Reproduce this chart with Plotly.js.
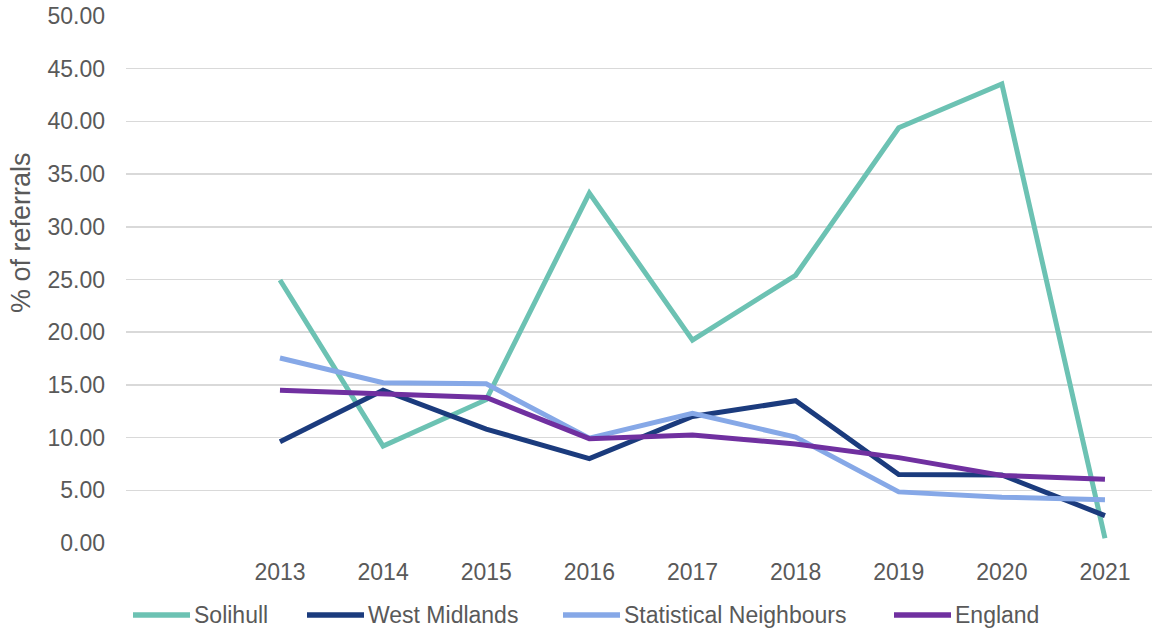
<!DOCTYPE html>
<html>
<head>
<meta charset="utf-8">
<script src="https://cdn.plot.ly/plotly-3.0.1.min.js"></script>
<style>html,body{margin:0;padding:0;background:#fff;}#chart{width:1152px;height:633px;}</style>
</head>
<body>
<div id="chart"></div>
<script>
const years = [2013, 2014, 2015, 2016, 2017, 2018, 2019, 2020, 2021];
const yTickVals = [0, 5, 10, 15, 20, 25, 30, 35, 40, 45, 50];
const seriesNames = ["Solihull", "West Midlands", "Statistical Neighbours", "England"];
const solihull = [24.95, 9.2, 13.6, 33.2, 19.25, 25.4, 39.4, 43.55, 0.45];
const westMidlands = [9.6, 14.5, 10.8, 8.0, 12.0, 13.5, 6.5, 6.45, 2.6];
const statNeighbours = [17.55, 15.2, 15.1, 9.95, 12.3, 10.05, 4.85, 4.35, 4.1];
const england = [14.5, 14.1, 13.8, 9.9, 10.25, 9.4, 8.1, 6.4, 6.05];
const yTitle = "% of referrals";

const colors = ["#6CC2B3", "#1B3B7D", "#86A8E7", "#7030A0"];
const values = [solihull, westMidlands, statNeighbours, england];

const W = 1152, H = 633, L = 126, R = 0, T = 16, B = 90;
const px = x => (x - L) / (W - L - R);
const py = y => (H - B - y) / (H - T - B);

const traces = values.map((v, i) => ({
  x: years, y: v, type: "scatter", mode: "lines", name: seriesNames[i],
  line: {color: colors[i], width: 5}, cliponaxis: false, showlegend: false,
  hoverinfo: "x+y+name"
}));

// custom legend placement (pixel positions of line segments)
const legLineX = [133, 307, 563, 894];
const legY = 615;
const shapes = legLineX.map((x0, i) => ({
  type: "line", xref: "paper", yref: "paper",
  x0: px(x0), x1: px(x0 + 57), y0: py(legY), y1: py(legY),
  line: {color: colors[i], width: 5.5}
}));
const annotations = legLineX.map((x0, i) => ({
  xref: "paper", yref: "paper", x: px(x0 + 59), y: py(legY),
  xanchor: "left", yanchor: "middle", showarrow: false,
  text: seriesNames[i], font: {family: "Liberation Sans, Arial", size: 23, color: "#595959"}
}));
annotations.push({
  xref: "paper", yref: "paper", x: px(21), y: py(233),
  xanchor: "center", yanchor: "middle", showarrow: false, textangle: -90,
  text: yTitle, font: {family: "Liberation Sans, Arial", size: 27, color: "#595959"}
});

const layout = {
  width: W, height: H,
  margin: {l: L, r: R, t: T, b: B, pad: 0},
  paper_bgcolor: "#ffffff", plot_bgcolor: "#ffffff",
  font: {family: "Liberation Sans, Arial", size: 23, color: "#595959"},
  showlegend: false,
  xaxis: {
    type: "linear", range: [2011.507, 2021.456], tickvals: years, ticktext: years.map(String),
    showgrid: false, zeroline: false, showline: false, ticks: "",
    ticklabelstandoff: 13, tickfont: {size: 23, color: "#595959"}
  },
  yaxis: {
    range: [0, 50], tickvals: yTickVals, ticktext: yTickVals.map(v => v.toFixed(2)),
    showgrid: true, gridcolor: "#D9D9D9", gridwidth: 1.5, zeroline: false, showline: false,
    ticks: "", ticklabelstandoff: 20, tickfont: {size: 23, color: "#595959"}
  },
  shapes: shapes,
  annotations: annotations
};

Plotly.newPlot("chart", traces, layout, {displayModeBar: false, staticPlot: true});
</script>
</body>
</html>
